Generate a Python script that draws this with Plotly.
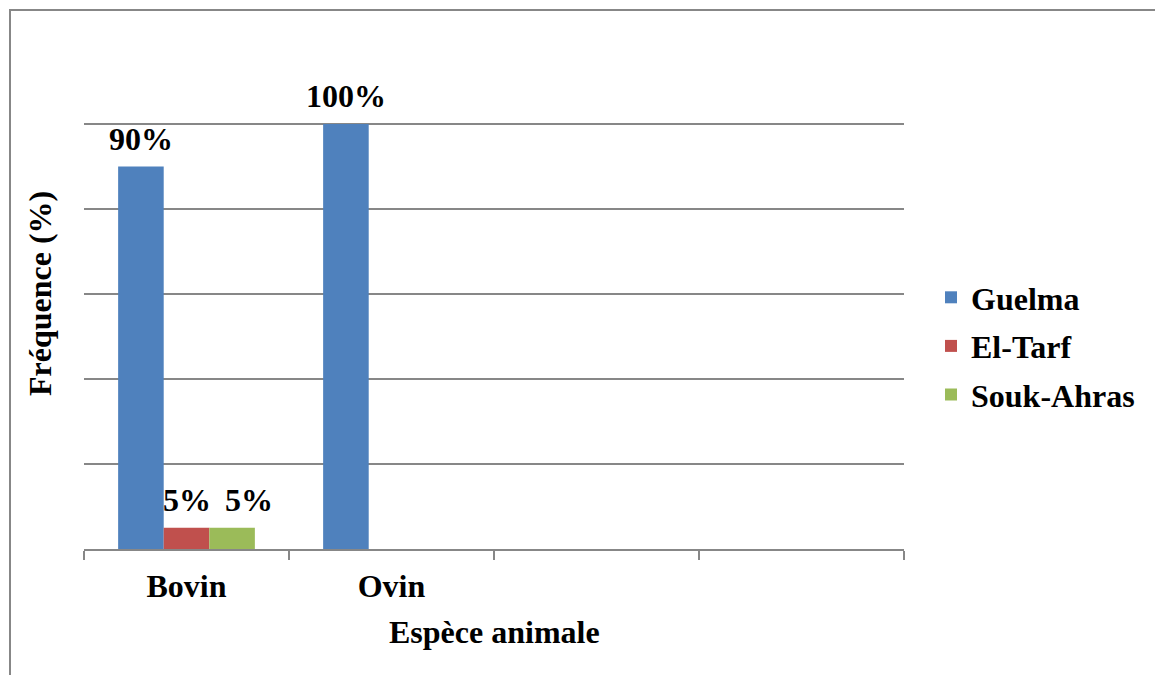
import plotly.graph_objects as go

# Data
categories = ["Bovin", "Ovin", " ", "  "]
series_names = ["Guelma", "El-Tarf", "Souk-Ahras"]
guelma = [90, 100, None, None]
el_tarf = [5, 0, None, None]
souk_ahras = [5, 0, None, None]
colors = ["#4F81BD", "#C0504D", "#9BBB59"]

W, H = 1155, 675
ML, MR, MT, MB = 84, 251, 39, 126
PW, PH = W - ML - MR, H - MT - MB
BARGAP = 0.333
FONT = "Liberation Serif"
FS = 32
bold = dict(family=FONT, size=FS, color="black", weight="bold")

fig = go.Figure()
all_series = [guelma, el_tarf, souk_ahras]
for name, vals, col in zip(series_names, all_series, colors):
    fig.add_trace(go.Bar(
        name=name, x=categories, y=vals, marker=dict(color=col, line=dict(width=0)),
        legendgroup=name,
    ))

# Value labels above each non-zero bar; the last series' label is nudged
# right so it does not touch its neighbour
label_xshift = [0, 0, 17]
n = len(all_series)
bw = (1 - BARGAP) / n
annotations = []
for j, vals in enumerate(all_series):
    for i, v in enumerate(vals):
        if v:
            annotations.append(dict(
                x=i + (j - (n - 1) / 2) * bw, y=v, xref="x", yref="y",
                text=f"{v}%", showarrow=False, xanchor="center", yanchor="bottom",
                yshift=8, xshift=label_xshift[j] if v < 10 else 0, font=bold,
            ))

# Axis titles
annotations.append(dict(
    x=(40 - ML) / PW, y=0.5, xref="paper", yref="paper", textangle=-90,
    xanchor="center", yanchor="middle",
    text="Fréquence (%)", showarrow=False, font=bold,
))
annotations.append(dict(
    x=0.5, y=(MT + PH - 632) / PH, xref="paper", yref="paper",
    xanchor="center", yanchor="middle",
    text="Espèce animale", showarrow=False, font=bold,
))

# Chart border (right and bottom edges fall outside the canvas)
shapes = [dict(
    type="rect", xref="paper", yref="paper",
    x0=(10 - ML) / PW, x1=(W + 10 - ML) / PW,
    y0=(MT + PH - H - 10) / PH, y1=(MT + PH - 10) / PH,
    line=dict(color="#878787", width=2), fillcolor="rgba(0,0,0,0)", layer="below",
)]

fig.update_layout(
    width=W, height=H,
    margin=dict(l=ML, r=MR, t=MT, b=MB, autoexpand=False),
    paper_bgcolor="white", plot_bgcolor="white",
    barmode="group", bargap=BARGAP, bargroupgap=0,
    font=bold,
    xaxis=dict(
        type="category", categoryorder="array", categoryarray=categories,
        range=[-0.5, len(categories) - 0.5], tickson="boundaries",
        ticks="outside", ticklen=9, tickwidth=2, tickcolor="#878787",
        showline=True, linecolor="#878787", linewidth=2,
        showgrid=False, tickfont=bold, ticklabelstandoff=8,
    ),
    yaxis=dict(
        range=[0, 120], dtick=20, showticklabels=False, ticks="",
        showgrid=True, gridcolor="#878787", gridwidth=2,
        zeroline=False, showline=False,
    ),
    legend=dict(
        x=(948 - 17 - ML) / PW, xanchor="left", y=(MT + PH - 346) / PH, yanchor="middle",
        font=bold, bgcolor="rgba(0,0,0,0)", tracegroupgap=4,
    ),
    annotations=annotations, shapes=shapes,
)

fig.write_html("out.html")
